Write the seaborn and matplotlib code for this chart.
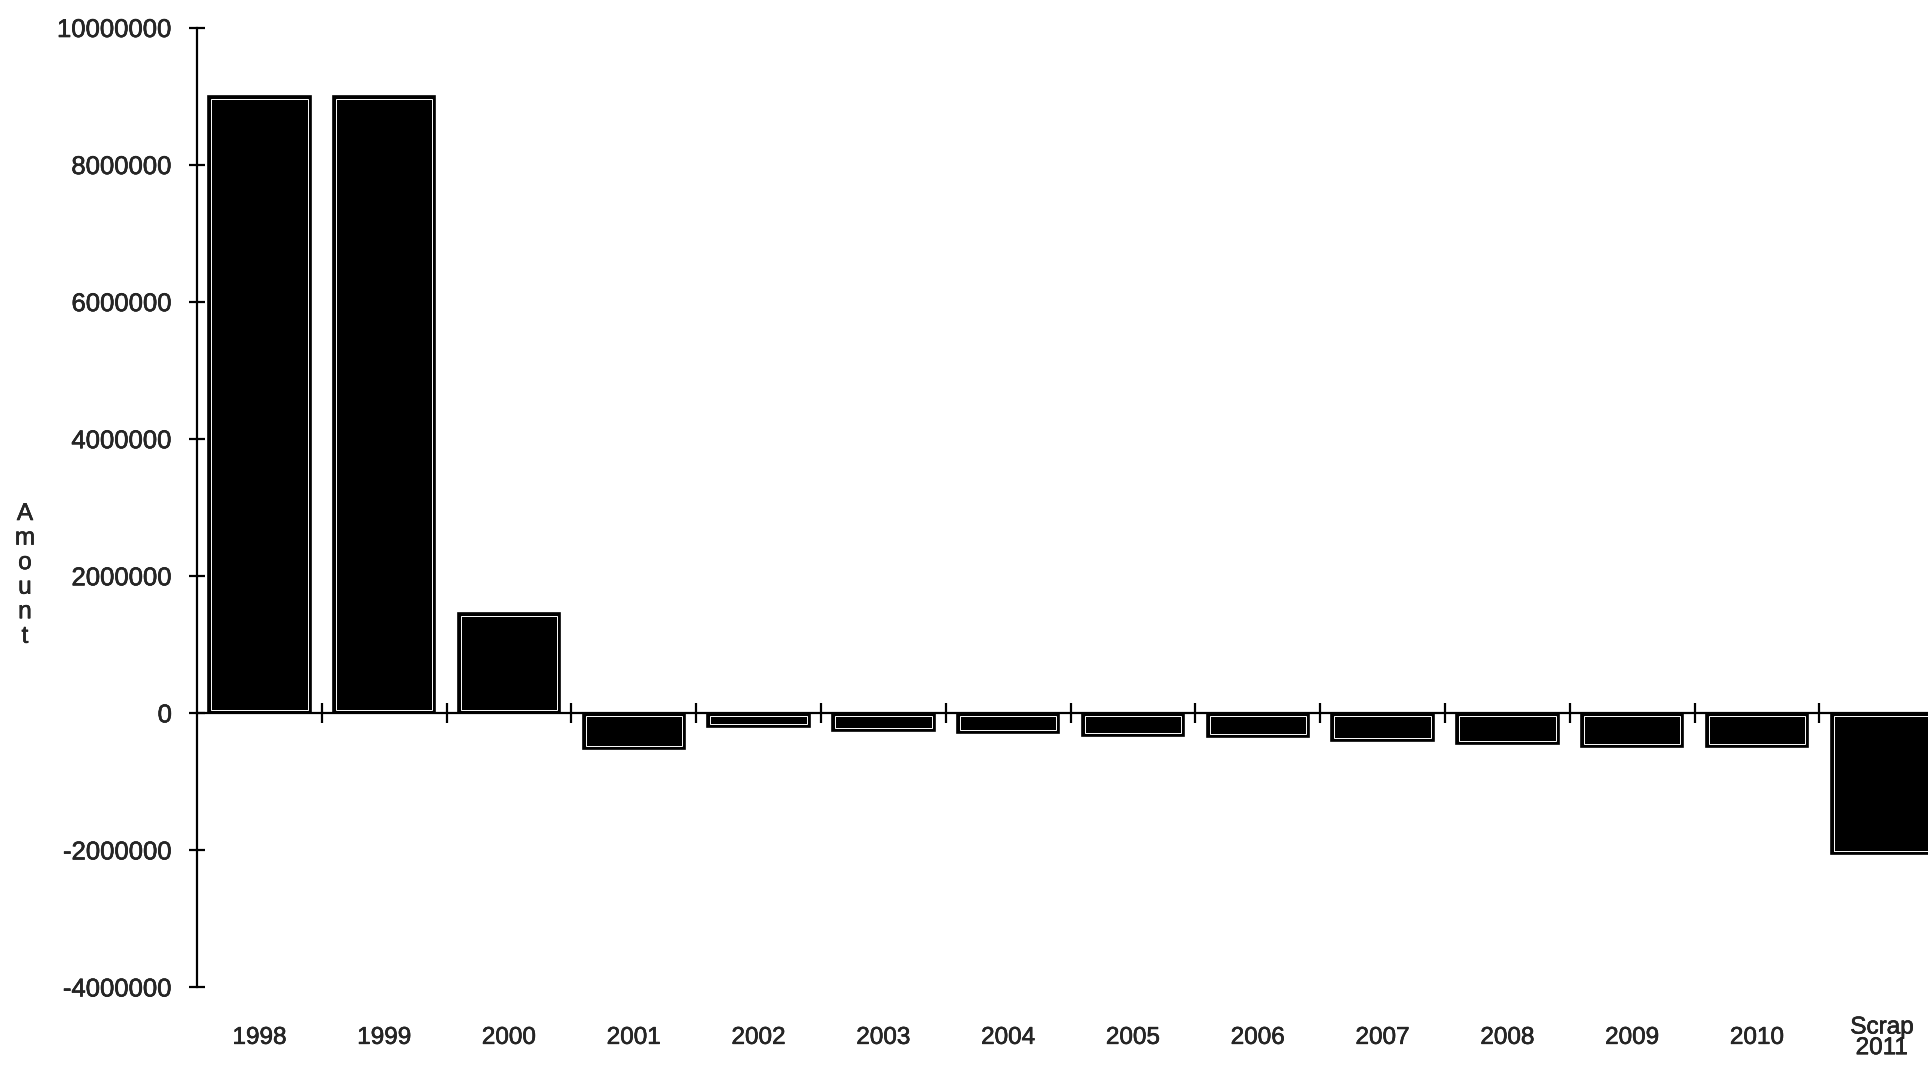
import matplotlib
matplotlib.use("Agg")
import matplotlib.pyplot as plt
import matplotlib.transforms as mtransforms
import matplotlib.patheffects as pe
from matplotlib.patches import Rectangle
from matplotlib.ticker import FixedLocator, FuncFormatter
import seaborn as sns
import pandas as pd

categories = ["1998", "1999", "2000", "2001", "2002", "2003", "2004",
              "2005", "2006", "2007", "2008", "2009", "2010", "Scrap\n2011"]
amounts = [9000000, 9000000, 1450000, -530000, -210000, -270000, -300000,
           -340000, -350000, -410000, -450000, -500000, -500000, -2060000]
y_ticks = [-4000000, -2000000, 0, 2000000, 4000000, 6000000, 8000000, 10000000]
y_label = "Amount"

sns.set_style("white")
plt.rcParams["font.family"] = ["Liberation Sans", "DejaVu Sans"]
plt.rcParams["axes.unicode_minus"] = False

heavy = [pe.withStroke(linewidth=0.4, foreground="black")]

W, H = 1928, 1065
fig = plt.figure(figsize=(W / 100, H / 100), dpi=100)
left_px, right_px, top_px, bot_px = 197, 1928, 27.5, 987
ax = fig.add_axes([left_px / W, 1 - bot_px / H, (right_px - left_px) / W, (bot_px - top_px) / H])

df = pd.DataFrame({"cat": categories, "amount": amounts})
sns.barplot(data=df, x="cat", y="amount", order=categories, color="black",
            saturation=1, edgecolor="black", linewidth=1.2, width=0.82, ax=ax)

ax.set_xlim(-0.5, 13.37)
ax.set_ylim(y_ticks[0], y_ticks[-1])

# thin white inner outline on each bar (scanned look)
px_x = (right_px - left_px) / (13.37 + 0.5)
px_y = (bot_px - top_px) / (y_ticks[-1] - y_ticks[0])
dx, dy = 3 / px_x, 3 / px_y
for p in list(ax.patches):
    x0, y0, w, h = p.get_x(), p.get_y(), p.get_width(), p.get_height()
    ys, ye = min(y0, y0 + h), max(y0, y0 + h)
    ax.add_patch(Rectangle((x0 + dx, ys + dy), w - 2 * dx, (ye - ys) - 2 * dy,
                           facecolor="none", edgecolor="white", linewidth=0.7, zorder=3))

# spines
for s in ["top", "right"]:
    ax.spines[s].set_visible(False)
ax.spines["bottom"].set_position(("data", 0))
for s in ["bottom", "left"]:
    ax.spines[s].set_linewidth(1.6)
    ax.spines[s].set_color("black")
    ax.spines[s].set_zorder(4)

# x ticks at category boundaries, no labels on the zero line
ax.xaxis.set_major_locator(FixedLocator([k + 0.5 for k in range(len(categories) - 1)]))
ax.set_xticklabels([])
ax.tick_params(axis="x", bottom=True, direction="inout", length=14, width=1.6, color="black")
ax.set_xlabel("")

# y ticks
ax.yaxis.set_major_locator(FixedLocator(y_ticks))
ax.yaxis.set_major_formatter(FuncFormatter(lambda v, p: f"{int(v)}"))
ax.tick_params(axis="y", left=True, direction="inout", length=12, width=1.6, color="black",
               labelsize=18.5, pad=12)
for t in ax.get_yticklabels():
    t.set_path_effects(heavy)

# category labels below the plot
trans = mtransforms.blended_transform_factory(ax.transData, ax.transAxes)
for k, lab in enumerate(categories):
    ax.text(k, -0.053, lab, transform=trans, ha="center", va="center",
            fontsize=17.5, linespacing=0.92, clip_on=False, path_effects=heavy)

# stacked y label
ax.set_ylabel("")
ax.text(-0.0994, 0.429, "\n".join(list(y_label)), transform=ax.transAxes,
        ha="center", va="center", fontsize=17.5, linespacing=1.15, path_effects=heavy)

fig.savefig("out.png", dpi=100)
